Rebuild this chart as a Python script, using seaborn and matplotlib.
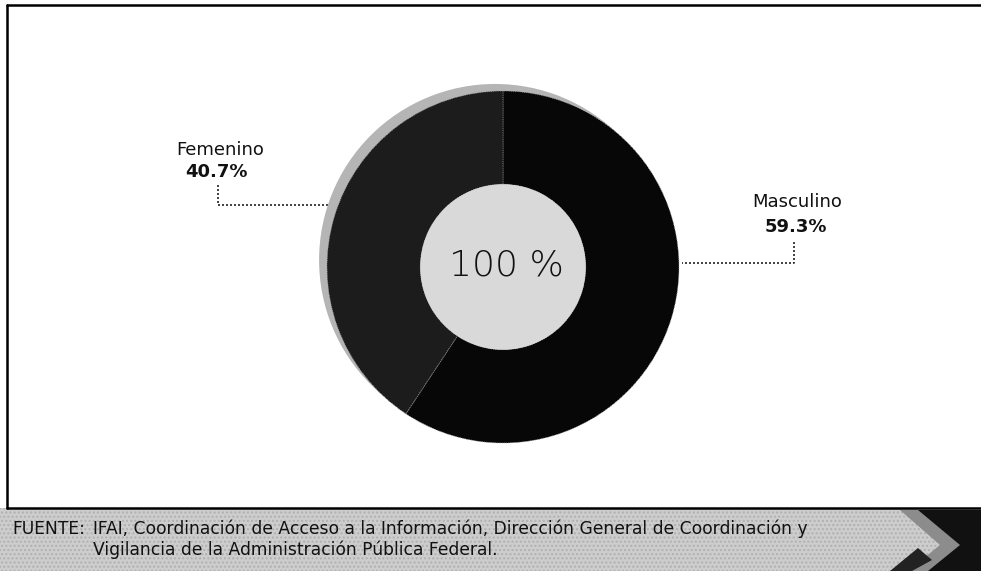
import numpy as np
import matplotlib
matplotlib.use("Agg")
import matplotlib.pyplot as plt
from matplotlib.patches import Circle, Rectangle, Polygon
import seaborn as sns

# datos del gráfico
categorias = ["Masculino", "Femenino"]
porcentajes = [59.3, 40.7]
total_txt = "100 %"
fuente_txt = ["IFAI, Coordinación de Acceso a la Información, Dirección General de Coordinación y",
              "Vigilancia de la Administración Pública Federal."]

sns.set_theme(style="white")
plt.rcParams['font.family'] = ['DejaVu Sans']

W, H = 981, 571
fig = plt.figure(figsize=(W / 100, H / 100), dpi=100)
fig.patch.set_facecolor("white")

# capa de fondo en coordenadas de pixel
bg = fig.add_axes([0, 0, 1, 1])
bg.set_xlim(0, W)
bg.set_ylim(H, 0)
bg.axis("off")

# pie de página gris
bg.add_patch(Rectangle((0, 508), W, H - 508, facecolor="#cdcdcd", edgecolor="none", zorder=0))
bg.add_patch(Rectangle((0, 508), W, H - 508, facecolor="none", edgecolor="#b0b0b0",
                       hatch="....", linewidth=0, zorder=0.5))

# marco
bg.plot([7, W], [5, 5], color="black", lw=1.8, zorder=2)
bg.plot([7, 7], [5, 508], color="black", lw=1.8, zorder=2)
bg.plot([7, W], [508, 508], color="black", lw=1.8, zorder=2)

# flecha decorativa
bg.add_patch(Polygon([(915, 510), (W, 510), (W, H), (895, H), (950, 546)], closed=True,
                     facecolor="#111111", edgecolor="none", zorder=1))
bg.add_patch(Polygon([(900, 510), (918, 510), (960, 545), (928, H), (908, H), (940, 545)],
                     closed=True, facecolor="#8c8c8c", edgecolor="none", zorder=1.2))
bg.add_patch(Polygon([(890, H), (918, 548), (932, 560), (912, H)], closed=True,
                     facecolor="#222222", edgecolor="none", zorder=1.3))

# texto de la fuente
fs = 12.3
bg.text(12, 529, "FUENTE:", fontsize=fs, color="#111111", va="center", ha="left", zorder=3)
bg.text(93, 529, fuente_txt[0], fontsize=fs, color="#111111", va="center", ha="left", zorder=3)
bg.text(93, 550, fuente_txt[1], fontsize=fs, color="#111111", va="center", ha="left", zorder=3)

# etiquetas
bg.text(797, 202, categorias[0], fontsize=13, color="#111111", ha="center", va="center")
bg.text(796, 227, f"{porcentajes[0]}%", fontsize=13, fontweight="bold", color="#111111",
        ha="center", va="center")
bg.text(220, 150, categorias[1], fontsize=13, color="#111111", ha="center", va="center")
bg.text(216, 172, f"{porcentajes[1]}%", fontsize=13, fontweight="bold", color="#111111",
        ha="center", va="center")

# líneas guía punteadas
ls = (0, (1.2, 1.2))
bg.plot([794, 794, 682], [242, 263, 263], color="#222222", lw=1.2, ls=ls)
bg.plot([218, 218, 330], [185, 205, 205], color="#222222", lw=1.2, ls=ls)

# dona
cx, cy, r = 503, 267, 176
lim = 1.1
ax = fig.add_axes([(cx - lim * r) / W, (H - cy - lim * r) / H, 2 * lim * r / W, 2 * lim * r / H])
ax.set_xlim(-lim, lim)
ax.set_ylim(-lim, lim)
ax.set_aspect("equal")
ax.axis("off")
ax.patch.set_alpha(0)

ax.add_patch(Circle((-0.045, 0.04), 1.0, facecolor="#b5b5b5", edgecolor="none", zorder=0))
wedges, _ = ax.pie(porcentajes, startangle=90, counterclock=False, radius=1,
                   colors=["#070707", "#1c1c1c"],
                   wedgeprops=dict(width=0.53, edgecolor="#9a9a9a", linewidth=0.6, linestyle=":"))
for w in wedges:
    w.set_zorder(1)
ax.set_xlim(-lim, lim)
ax.set_ylim(-lim, lim)
ax.add_patch(Circle((0, 0), 0.47, facecolor="#d9d9d9", edgecolor="none", zorder=2))
ax.text(0.02, 0.01, total_txt, fontsize=26, fontweight="light", color="#111111",
        ha="center", va="center", zorder=3)

fig.savefig("out.png", dpi=100)
